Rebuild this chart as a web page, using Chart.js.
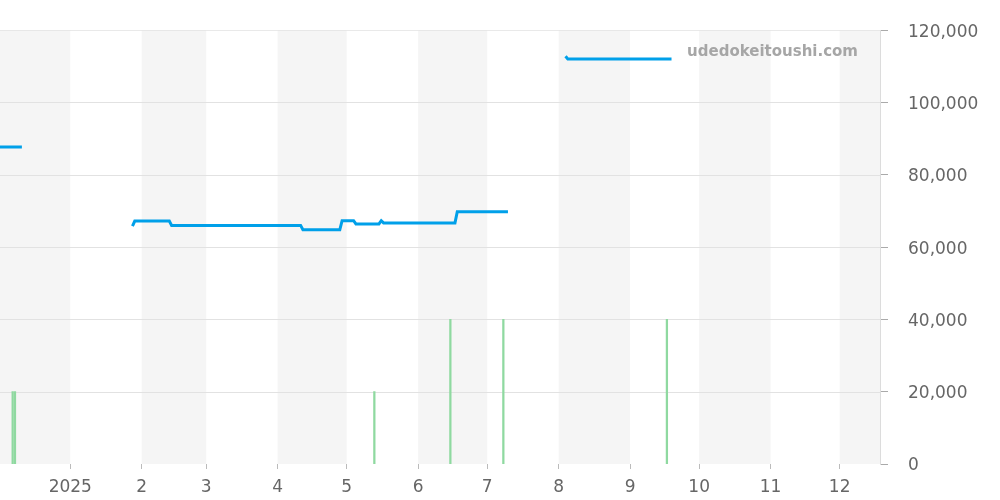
<!DOCTYPE html>
<html lang="en">
<head>
    <meta charset="UTF-8">
    <title>Price chart</title>
    <script src="https://cdn.jsdelivr.net/npm/chart.js"></script>
    <style>
        body { margin: 0; background: #fff; }
        #wrap { width: 1000px; height: 500px; }
    </style>
</head>
<body>
    <div id="wrap"><canvas id="chart"></canvas></div>
    <script>
        // price line (null = gap in the series)
        var priceDates = ['2024-12-01', '2024-12-11', '2024-12-12',
            '2025-01-28', '2025-01-29', '2025-02-13', '2025-02-14', '2025-04-11', '2025-04-12',
            '2025-04-28', '2025-04-29', '2025-05-04', '2025-05-05', '2025-05-15', '2025-05-16',
            '2025-05-17', '2025-06-17', '2025-06-18', '2025-07-10', '2025-07-11',
            '2025-08-04', '2025-08-05', '2025-09-19'];
        var priceValues = [87700, 87700, null,
            65800, 67200, 67200, 66000, 66000, 64800,
            64800, 67300, 67300, 66400, 66400, 67300,
            66700, 66700, 69800, 69800, null,
            112800, 112000, 112000];

        // volume bars
        var volDates = ['2024-12-07', '2024-12-08', '2025-05-13', '2025-06-15', '2025-07-08', '2025-09-17'];
        var volValues = [1, 1, 1, 2, 2, 2];

        // month ticks
        var monthStarts = ['2025-01-01', '2025-02-01', '2025-03-01', '2025-04-01', '2025-05-01', '2025-06-01',
            '2025-07-01', '2025-08-01', '2025-09-01', '2025-10-01', '2025-11-01', '2025-12-01'];
        var monthLabels = ['2025', '2', '3', '4', '5', '6', '7', '8', '9', '10', '11', '12'];
        // shaded months
        var bandStarts = ['2024-12-01', '2025-02-01', '2025-04-01', '2025-06-01', '2025-08-01', '2025-10-01', '2025-12-01'];
        var bandEnds = ['2025-01-01', '2025-03-01', '2025-05-01', '2025-07-01', '2025-09-01', '2025-11-01', '2026-01-01'];

        var BASE = Date.UTC(2024, 11, 1);
        function day(s) {
            var p = s.split('-');
            return (Date.UTC(+p[0], +p[1] - 1, +p[2]) - BASE) / 86400000;
        }

        var bandPlugin = {
            id: 'bands',
            beforeDatasetsDraw: function (chart) {
                var ctx = chart.ctx, a = chart.chartArea, xs = chart.scales.x;
                ctx.save();
                ctx.beginPath();
                ctx.rect(a.left, a.top, a.right - a.left, a.bottom - a.top);
                ctx.clip();
                ctx.fillStyle = '#f5f5f5';
                for (var i = 0; i < bandStarts.length; i++) {
                    var x1 = xs.getPixelForValue(day(bandStarts[i]));
                    var x2 = xs.getPixelForValue(day(bandEnds[i]));
                    ctx.fillRect(x1, a.top, x2 - x1, a.bottom - a.top);
                }
                // horizontal grid lines over the bands
                var ys = chart.scales.y;
                ctx.strokeStyle = '#e2e2e2';
                ctx.lineWidth = 1;
                ys.ticks.forEach(function (t) {
                    var y = Math.round(ys.getPixelForValue(t.value)) + 0.5;
                    ctx.beginPath();
                    ctx.moveTo(a.left, y);
                    ctx.lineTo(a.right, y);
                    ctx.stroke();
                });
                ctx.restore();
            },
            afterDraw: function (chart) {
                var ctx = chart.ctx;
                ctx.save();
                ctx.font = 'bold 15px "DejaVu Sans"';
                ctx.fillStyle = '#a6a6a6';
                ctx.textAlign = 'right';
                ctx.textBaseline = 'middle';
                ctx.fillText('udedokeitoushi.com', 858, 52);
                ctx.restore();
            }
        };

        var ctx = document.getElementById('chart').getContext('2d');
        new Chart(ctx, {
            data: {
                datasets: [{
                    type: 'line',
                    data: priceDates.map(function (d, i) { return { x: day(d), y: priceValues[i] }; }),
                    borderColor: '#00a0e9',
                    borderWidth: 3,
                    pointRadius: 0,
                    spanGaps: false,
                    yAxisID: 'y',
                    order: 0
                }, {
                    type: 'bar',
                    data: volDates.map(function (d, i) { return { x: day(d), y: volValues[i] }; }),
                    backgroundColor: '#8fd9a0',
                    barThickness: 1.6,
                    yAxisID: 'vol',
                    order: 1
                }]
            },
            options: {
                responsive: true,
                maintainAspectRatio: false,
                animation: false,
                layout: { padding: { top: 30, left: 0, right: 0, bottom: 0 } },
                plugins: { legend: { display: false }, tooltip: { enabled: false } },
                scales: {
                    x: {
                        type: 'linear',
                        min: 0.5,
                        max: 382.5,
                        offset: false,
                        afterBuildTicks: function (axis) {
                            axis.ticks = monthStarts.map(function (m) { return { value: day(m) }; });
                        },
                        ticks: {
                            autoSkip: false,
                            maxRotation: 0,
                            padding: 8,
                            color: '#666',
                            font: { family: 'DejaVu Sans', size: 17 },
                            callback: function (v) {
                                var i = monthStarts.map(day).indexOf(v);
                                return i >= 0 ? monthLabels[i] : '';
                            }
                        },
                        grid: { offset: false, drawOnChartArea: false, tickLength: 5, color: '#bbb' },
                        border: { display: false },
                        afterFit: function (axis) { axis.height = 36; }
                    },
                    y: {
                        position: 'right',
                        min: 0,
                        max: 120000,
                        ticks: {
                            stepSize: 20000,
                            padding: 20,
                            labelOffset: 2,
                            color: '#666',
                            font: { family: 'DejaVu Sans', size: 17 },
                            callback: function (v) { return v.toLocaleString('en-US'); }
                        },
                        grid: { drawOnChartArea: false, tickLength: 8, tickColor: '#aaa' },
                        border: { display: true, color: '#dcdcdc' },
                        afterFit: function (axis) { axis.width = 120; }
                    },
                    vol: {
                        display: false,
                        min: 0,
                        max: 6
                    }
                }
            },
            plugins: [bandPlugin]
        });
    </script>
</body>
</html>
